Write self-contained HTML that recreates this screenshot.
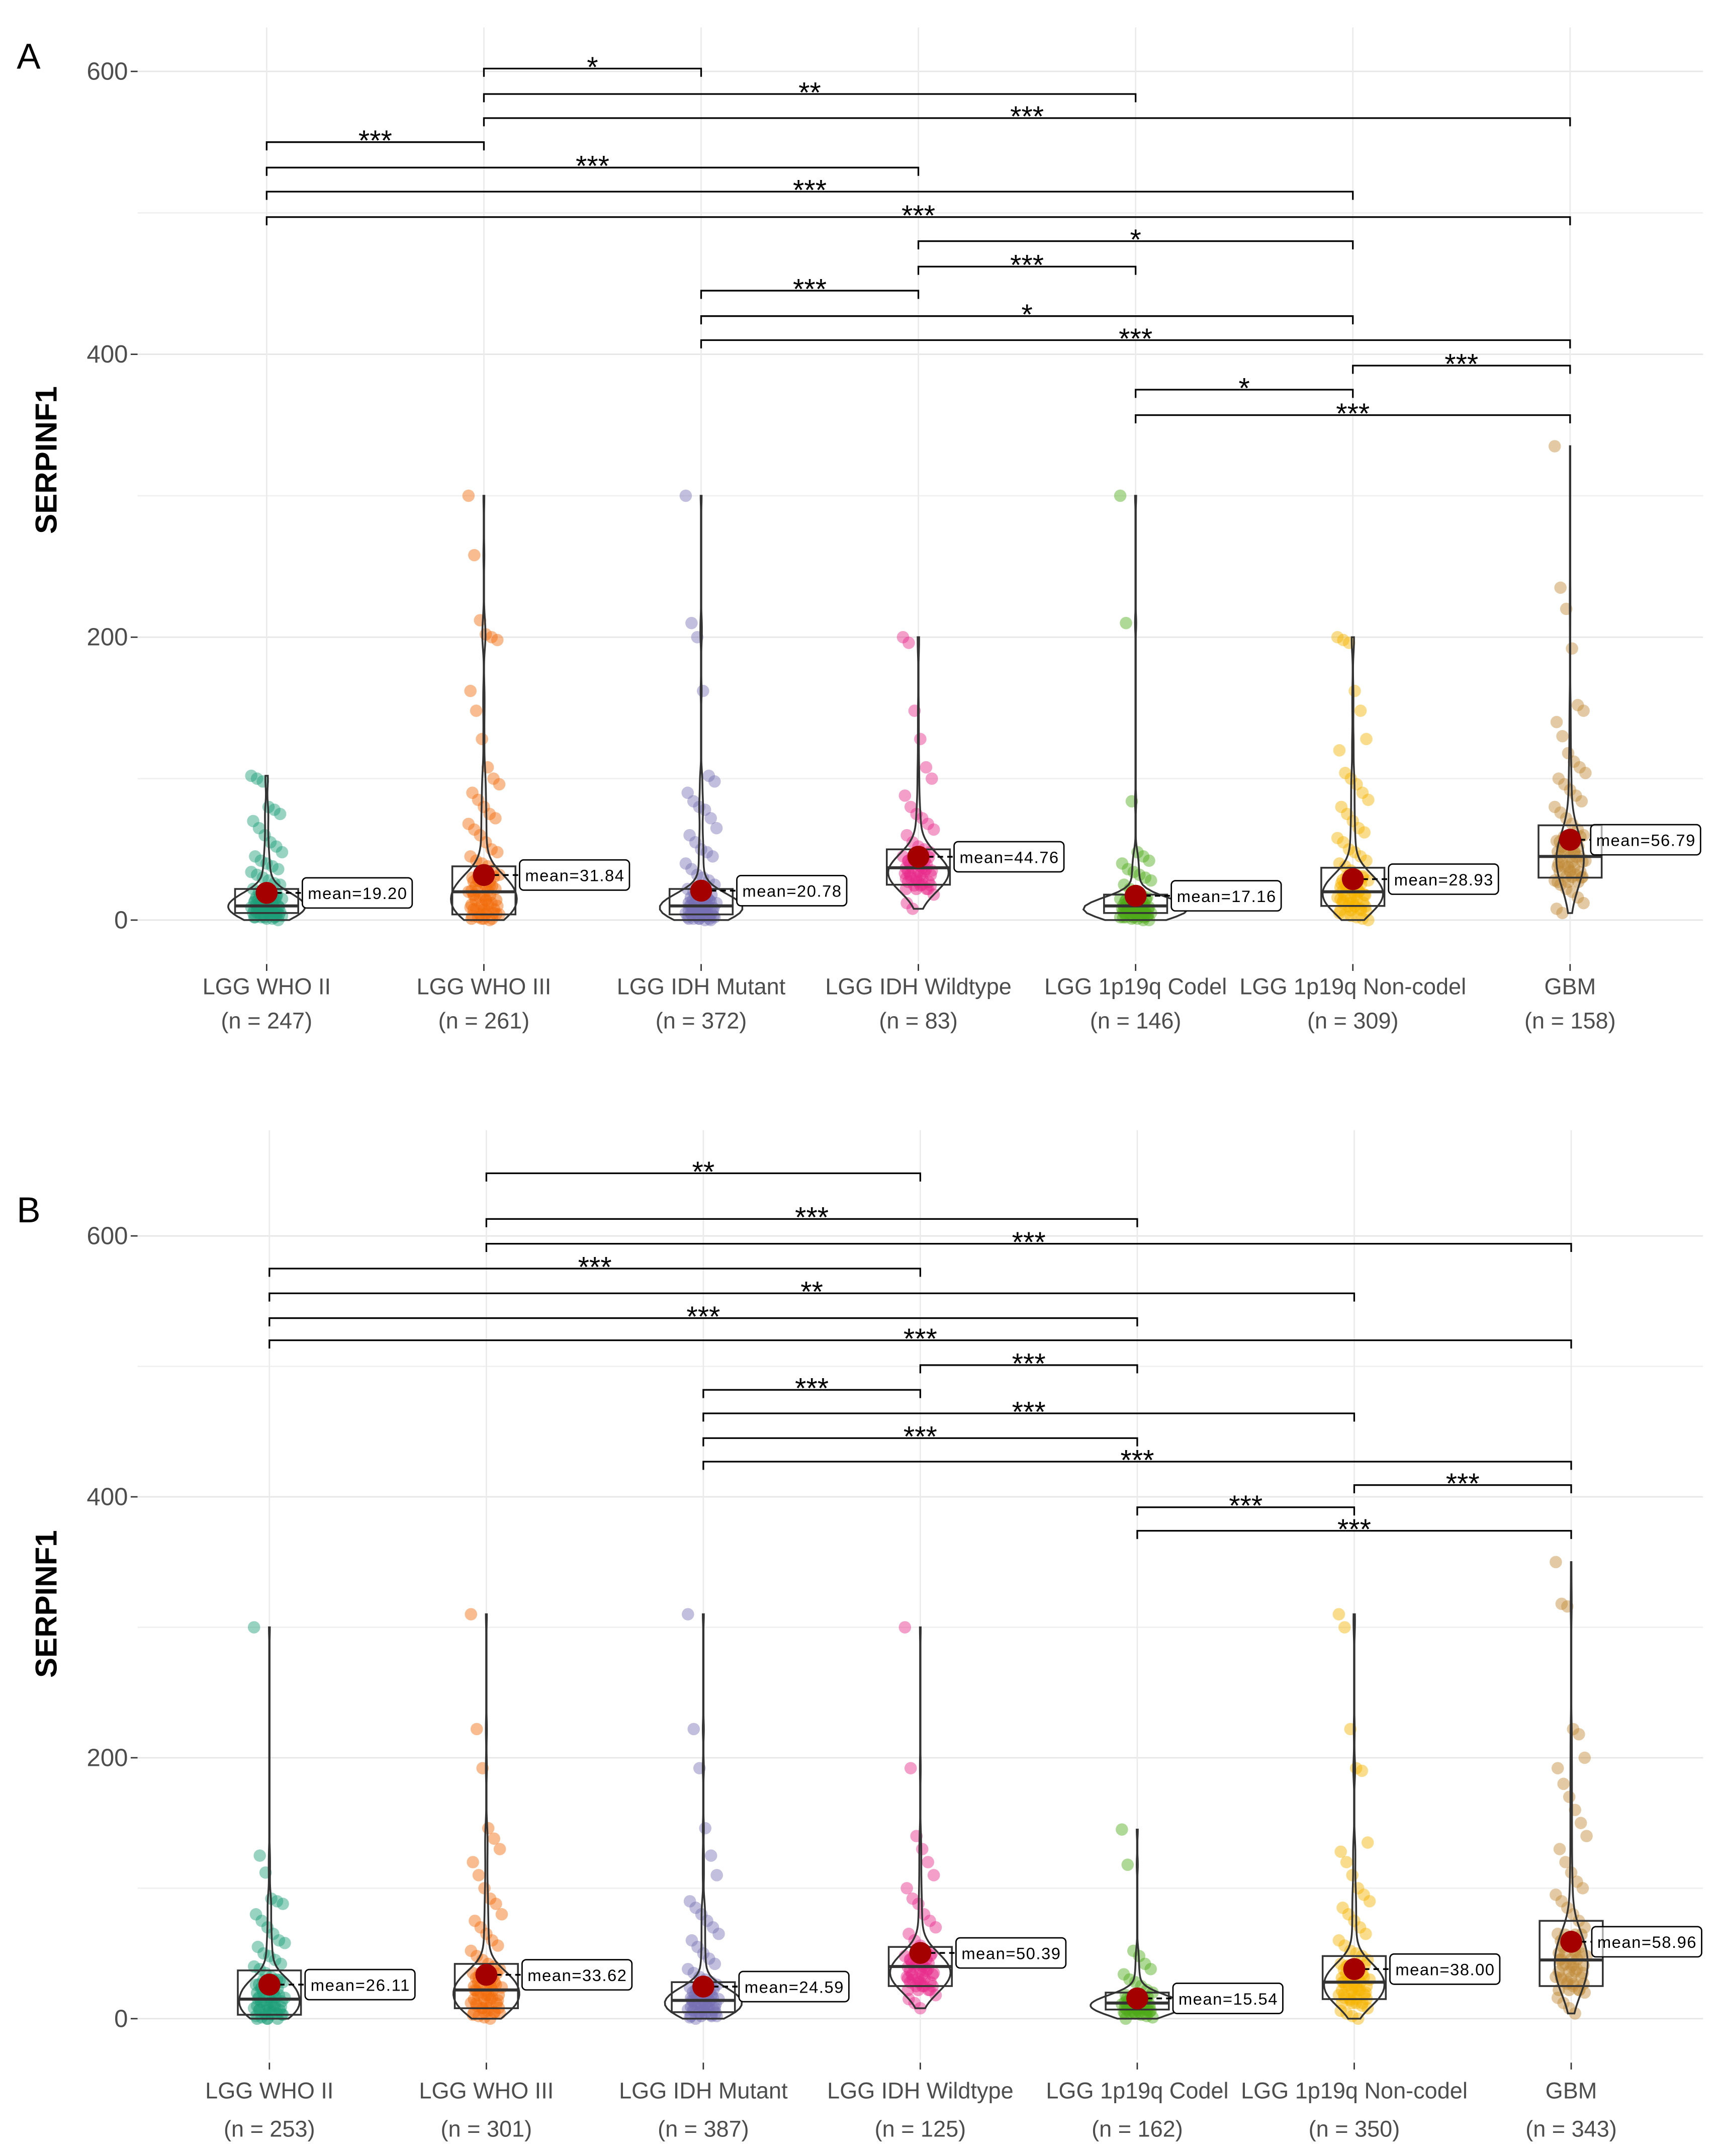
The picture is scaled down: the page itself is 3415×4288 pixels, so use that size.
<!DOCTYPE html>
<html><head><meta charset="utf-8"><style>
html,body{margin:0;padding:0;background:#fff}
svg{display:block}
text{font-family:"Liberation Sans",sans-serif}
</style></head><body>
<svg id="chart" width="3415" height="4288" viewBox="0 0 1250 1570" xmlns="http://www.w3.org/2000/svg"></svg>
<script>
const categories=["LGG WHO II","LGG WHO III","LGG IDH Mutant","LGG IDH Wildtype","LGG 1p19q Codel","LGG 1p19q Non-codel","GBM"];
const colors=["#1B9E77","#F26B0A","#7570B3","#E7298A","#4DAA18","#F5B400","#C08A38"];
const nA=[247,261,372,83,146,309,158];
const nB=[253,301,387,125,162,350,343];
const meanA=[19.20,31.84,20.78,44.76,17.16,28.93,56.79];
const meanB=[26.11,33.62,24.59,50.39,15.54,38.00,58.96];
const q1A=[5,4,4,25,5,10,30], medA=[10,20,10,37,10,20,45], q3A=[22,38,22,50,18,37,67];
const q1B=[3,8,5,25,7,15,25], medB=[15,22,14,40,12,28,45], q3B=[37,42,28,55,20,48,75];
const ptsA=[
[102,100,98,80,78,75,70,65,60,55,52,48,45,42,40,38,36,34,32,30,28,26,25,22,20,19,18,16,15,14,13,12,11,10,9,8,8,7,6,6,5,5,4,4,3,3,2,2,1,1,0],
[300,258,212,202,200,198,162,148,128,108,100,96,90,85,80,75,72,68,64,60,55,50,48,45,42,40,38,35,32,30,28,26,24,22,20,18,16,14,12,10,9,8,7,6,5,4,3,2,1,0],
[300,210,200,162,102,98,90,84,80,78,72,65,60,55,50,48,45,40,36,32,30,28,25,22,20,18,15,13,12,10,9,8,7,6,5,4,4,3,3,2,2,1,1,0,0],
[200,196,148,128,108,100,88,80,75,72,68,64,60,55,52,50,48,45,42,40,38,36,35,33,30,28,25,22,18,12,8],
[300,210,84,48,45,42,40,36,34,32,30,28,25,22,20,18,16,15,14,12,11,10,9,8,8,7,6,6,5,5,4,4,3,3,2,2,1,1,0,0],
[200,198,196,162,148,128,120,104,100,96,90,85,80,75,70,65,62,58,55,50,48,45,42,40,38,35,32,30,28,26,24,22,20,18,16,14,12,10,8,6,5,4,3,2,1,0],
[335,235,220,192,152,148,140,130,118,112,108,104,100,96,92,88,84,80,76,72,68,64,60,56,52,50,48,45,42,40,38,35,32,30,28,25,22,20,16,12,8,5]];
const ptsB=[
[300,125,112,92,90,88,80,75,70,65,60,58,55,50,48,45,42,40,38,35,32,30,28,26,24,22,20,18,16,15,14,12,10,9,8,7,6,5,4,3,2,1,0],
[310,222,192,146,138,130,120,110,100,92,88,80,75,70,65,60,56,52,48,45,42,40,38,35,32,30,28,26,24,22,20,18,16,14,12,10,8,6,5,4,3,2,1,0],
[310,222,192,146,125,110,90,85,80,75,70,65,60,55,50,46,42,38,35,32,30,28,26,24,22,20,18,16,15,14,12,10,9,8,7,6,5,4,3,2,1,0],
[300,192,140,130,120,110,100,92,88,80,75,70,65,60,56,52,50,48,45,42,40,38,35,32,30,28,25,22,18,15,12,8],
[145,118,52,48,42,38,34,30,28,25,22,20,18,16,15,14,12,11,10,9,8,7,6,5,5,4,3,2,1,0],
[310,300,222,192,190,135,128,120,110,100,95,90,85,80,75,70,65,60,56,52,50,48,45,42,40,38,35,32,30,28,26,24,22,20,18,16,14,12,10,8,6,4,2,0],
[350,318,316,222,218,200,192,180,170,160,150,140,130,120,112,105,100,95,90,85,80,75,70,65,60,56,52,50,48,45,42,40,38,35,32,30,28,25,22,20,16,12,8,4]];
const sigA=[[1,2,602,"*"],[1,4,584,"**"],[1,6,567,"***"],[0,1,550,"***"],[0,3,532,"***"],[0,5,515,"***"],[0,6,497,"***"],[3,5,480,"*"],[3,4,462,"***"],[2,3,445,"***"],[2,5,427,"*"],[2,6,410,"***"],[5,6,392,"***"],[4,5,375,"*"],[4,6,357,"***"]];
const sigB=[[1,3,648,"**"],[1,4,613,"***"],[1,6,594,"***"],[0,3,575,"***"],[0,5,556,"**"],[0,4,537,"***"],[0,6,520,"***"],[3,4,501,"***"],[2,3,482,"***"],[2,5,464,"***"],[2,4,445,"***"],[2,6,427,"***"],[5,6,409,"***"],[4,5,392,"***"],[4,6,374,"***"]];
const yTicks=[0,200,400,600];

const NS="http://www.w3.org/2000/svg";
const svg=document.getElementById("chart");
function mk(tag,attrs,parent,txt){const e=document.createElementNS(NS,tag);for(const k in attrs)e.setAttribute(k,attrs[k]);if(txt!==undefined)e.textContent=txt;(parent||svg).appendChild(e);return e;}

function panel(P){
  const g=mk("g",{});
  
  
  const y=v=>P.y0-v*P.k;
  const x=i=>P.x0+i*P.dx;
  for(let v=0;v<=600;v+=100){const l=mk("line",{x1:100,x2:1240,y1:y(v),y2:y(v),stroke:v%200===0?"#e6e6e6":"#f0f0f0","stroke-width":1},g);
    }
  categories.forEach((c,i)=>{const l=mk("line",{x1:x(i),x2:x(i),y1:P.top,y2:P.bot,stroke:"#ebebeb","stroke-width":1},g);
    });
  yTicks.forEach(v=>{const t=mk("text",{x:93,y:y(v)+6,"text-anchor":"end","font-size":18,fill:"#4d4d4d"},g,v+"");
    
    mk("line",{x1:95,x2:100,y1:y(v),y2:y(v),stroke:"#333","stroke-width":1},g);});
  const yl=mk("text",{x:0,y:0,transform:`translate(41,${P.ylabY}) rotate(-90)`,"text-anchor":"middle","font-size":22,"font-weight":"bold",fill:"#000"},g,"SERPINF1");
  
  const pl=mk("text",{x:12,y:P.letterY,"font-size":26,fill:"#000"},g,P.letter);
  
  categories.forEach((c,i)=>{
    const cx=x(i);
    mk("line",{x1:cx,x2:cx,y1:P.bot+2,y2:P.bot+7,stroke:"#333","stroke-width":1},g);
    const t1=mk("text",{x:cx,y:P.lab1,"text-anchor":"middle","font-size":16.5,fill:"#4d4d4d"},g,c);
    
    const t2=mk("text",{x:cx,y:P.lab2,"text-anchor":"middle","font-size":16.5,fill:"#4d4d4d"},g,"(n = "+P.n[i]+")");
    
    const pts=P.pts[i];
    pts.forEach((v,j)=>{const jx=(((j*37)%17)-8)*1.4;
      const c2=mk("circle",{cx:cx+jx,cy:y(v),r:4.5,fill:colors[i],"fill-opacity":0.45},g);
      });
    const base=[];
    for(let j=0;j<30;j++){const v=Math.max(0,P.q1[i]-3)+(P.q3[i]-P.q1[i]+3)*(j%10)/9*0.8;base.push(v);
      mk("circle",{cx:cx+((j*7)%13-6)*1.5,cy:y(v),r:4.5,fill:colors[i],"fill-opacity":0.5},g);}
    const all=pts.concat(base,base,base);
    const mn=Math.min(...pts),mx=Math.max(...pts),bw=P.bw[i];
    const steps=120,dens=[];
    for(let s=0;s<=steps;s++){const v=mn+(mx-mn)*s/steps;let d=0;all.forEach(p=>{const z=(v-p)/bw;d+=Math.exp(-z*z/2);});dens.push([v,d]);}
    const dmax=Math.max(...dens.map(d=>d[1]));
    let path="";dens.forEach((d,s)=>{path+=(s?"L":"M")+(cx+Math.max(0.15,d[1]/dmax*P.vw[i])).toFixed(2)+","+y(d[0]).toFixed(1);});
    for(let s=steps;s>=0;s--){const d=dens[s];path+="L"+(cx-Math.max(0.15,d[1]/dmax*P.vw[i])).toFixed(2)+","+y(d[0]).toFixed(1);}
    const vi=mk("path",{d:path+"Z",fill:"none",stroke:"#333","stroke-width":1.3},g);
    
    const bx=mk("rect",{x:cx-23,y:y(P.q3[i]),width:46,height:y(P.q1[i])-y(P.q3[i]),fill:"none",stroke:"#333","stroke-width":1.3},g);
    
    mk("line",{x1:cx-23,x2:cx+23,y1:y(P.med[i]),y2:y(P.med[i]),stroke:"#333","stroke-width":2.2},g);
    const my=y(P.mean[i]);
    const lx=i===6?cx+15:cx+26;
    mk("line",{x1:cx,x2:lx,y1:my,y2:my,stroke:"#000","stroke-width":1.3,"stroke-dasharray":"4,3"},g);
    const mp=mk("circle",{cx:cx,cy:my,r:8,fill:"#A50000"},g);
    
    const lb=mk("rect",{x:lx,y:my-11,width:80,height:22,rx:3,fill:"#fff","fill-opacity":i===6?0.6:1,stroke:"#000","stroke-width":1},g);
    
    mk("text",{x:lx+4,y:my+4.5,"font-size":12,fill:"#000",textLength:72},g,"mean="+P.mean[i].toFixed(2));
  });
  P.sig.forEach(s=>{const ly=y(s[2]),x1=x(s[0]),x2=x(s[1]);
    const b=mk("path",{d:`M${x1},${ly+6}V${ly}H${x2}V${ly+6}`,fill:"none",stroke:"#000","stroke-width":1.2},g);
    
    const t=mk("text",{x:(x1+x2)/2,y:ly+6,"text-anchor":"middle","font-size":21,fill:"#000"},g,s[3]);
    });
}
panel({name:"panel-a",letter:"A",letterY:50,y0:670,k:1.03,x0:194,dx:158.2,top:20,bot:700,lab1:724,lab2:749,ylabY:335,
  n:nA,mean:meanA,q1:q1A,med:medA,q3:q3A,pts:ptsA,sig:sigA,vw:[28,24,30,22,38,22,10],bw:[7,9,7,10,6,9,14]});
panel({name:"panel-b",letter:"B",letterY:890,y0:1470,k:0.95,x0:196,dx:158,top:823,bot:1500,lab1:1528,lab2:1556,ylabY:1168,
  n:nB,mean:meanB,q1:q1B,med:medB,q3:q3B,pts:ptsB,sig:sigB,vw:[22,24,28,22,34,22,12],bw:[8,9,7,10,6,9,14]});
</script>
</body></html>
